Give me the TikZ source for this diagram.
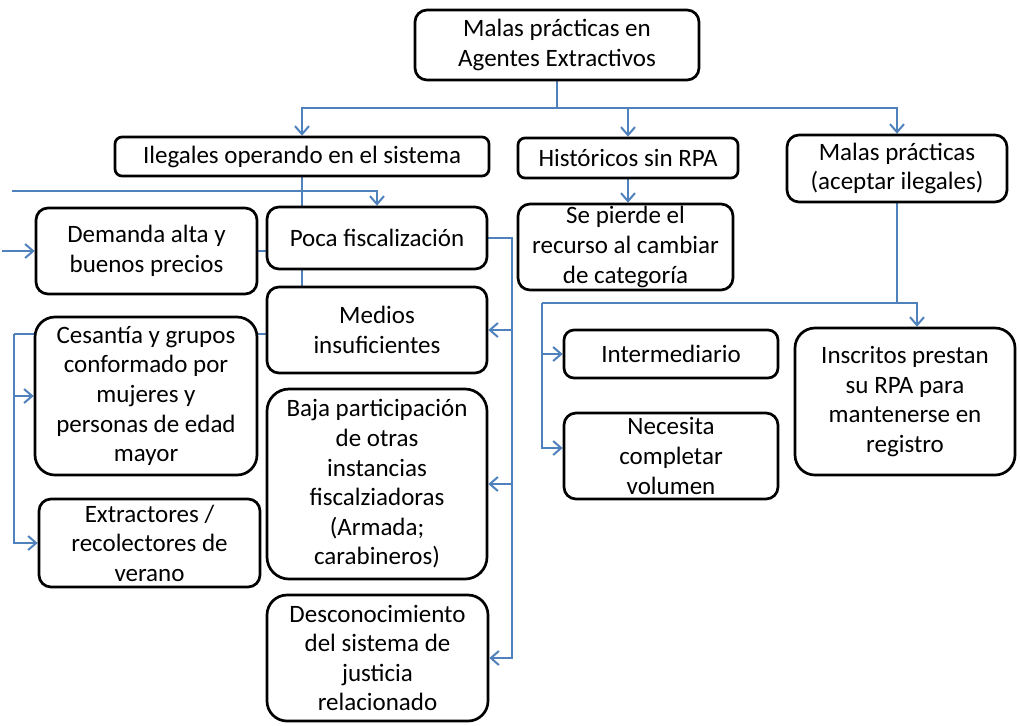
\documentclass[tikz,border=0pt]{standalone}
\usepackage{fontspec}
\setmainfont{Carlito}
\usetikzlibrary{arrows.meta,backgrounds}

\definecolor{linkblue}{HTML}{4F81BD}

\begin{document}
\begin{tikzpicture}[x=0.5pt, y=-0.5pt,
    box/.style={draw, line width=1.35pt, rounded corners=6pt, fill=white, align=center,
        inner sep=0pt, font=\fontsize{12.5}{14.8}\selectfont},
    link/.style={linkblue, line width=1pt},
    arrow/.style={link, -{Straight Barb[length=4pt, width=7pt]}}]
    \useasboundingbox (0,0) rectangle (1020,725);

    \node [box, minimum width=142pt, minimum height=35pt] (top) at (557,45) {Malas prácticas en\\Agentes Extractivos};
    \node [box, rounded corners=3.5pt, minimum width=187pt, minimum height=19.5pt] (ileg) at (302,156.5) {Ilegales operando en el sistema};
    \node [box, rounded corners=3.5pt, minimum width=110pt, minimum height=20pt] (hist) at (628,158) {Históricos sin RPA};
    \node [box, minimum width=110pt, minimum height=33.5pt] (malas) at (897,168.5) {Malas prácticas\\(aceptar ilegales)};
    \node [box, minimum width=107.5pt, minimum height=43pt] (sepierde) at (625.5,247) {Se pierde el\\recurso al cambiar\\de categoría};
    \node [box, minimum width=110.5pt, minimum height=43pt] (demanda) at (146.5,251) {Demanda alta y\\buenos precios};
    \node [box, minimum width=110pt, minimum height=31pt] (poca) at (377,238) {Poca fiscalización};
    \node [box, minimum width=110pt, minimum height=43pt] (medios) at (377,330) {Medios\\insuficientes};
    \node [box, rounded corners=10pt, minimum width=111pt, minimum height=79pt] (cesantia) at (146,396) {Cesantía y grupos\\conformado por\\mujeres y\\personas de edad\\mayor};
    \node [box, minimum width=110.5pt, minimum height=44pt] (extractores) at (149.5,543) {Extractores /\\recolectores de\\verano};
    \node [box, rounded corners=11pt, minimum width=110pt, minimum height=95pt] (baja) at (377,484) {Baja participación\\de otras\\instancias\\fiscalziadoras\\(Armada;\\carabineros)};
    \node [box, rounded corners=10pt, minimum width=110.5pt, minimum height=63pt] (descon) at (377.5,658) {Desconocimiento\\del sistema de\\justicia\\relacionado};
    \node [box, rounded corners=5pt, minimum width=107pt, minimum height=24pt] (inter) at (671,354) {Intermediario};
    \node [box, minimum width=107pt, minimum height=43pt] (necesita) at (671,456) {Necesita\\completar\\volumen};
    \node [box, rounded corners=10pt, minimum width=110pt, minimum height=73.5pt] (inscritos) at (905,401.5) {Inscritos prestan\\su RPA para\\mantenerse en\\registro};

    \coordinate (split) at (557,108);
    \coordinate (tedge) at (12,191);
    \coordinate (ledge) at (2,251);
    \coordinate (lbus) at (14,334);
    \coordinate (rbus) at (512,238);
    \coordinate (mbus) at (542,303);

    \begin{scope}[on background layer]
    \draw [link] (top) -- (split);
    \draw [arrow] (split) -| (ileg);
    \draw [arrow] (split) -| (hist);
    \draw [arrow] (split) -| (malas);
    \draw [arrow] (hist.south) -- (hist.south |- sepierde.north);

    \draw [arrow] (tedge) -| (poca);
    \draw [arrow] (ledge) -- (demanda);
    \draw [link] (ileg) |- (lbus);
    \draw [link] (ileg.south |- demanda.east) -- (demanda);
    \draw [arrow] (lbus |- cesantia) -- (cesantia);
    \draw [arrow] (lbus) |- (extractores);

    \draw [arrow] (poca) -- (rbus) |- (descon);
    \draw [arrow] (rbus |- medios) -- (medios);
    \draw [arrow] (rbus |- baja) -- (baja);

    \draw [link] (malas) |- (mbus);
    \draw [arrow] (malas.south |- mbus) -| ([xshift=6pt]inscritos.north);
    \draw [arrow] (mbus) |- (inter);
    \draw [arrow] (mbus) |- ([yshift=4pt]necesita.west);
    \end{scope}
\end{tikzpicture}
\end{document}
